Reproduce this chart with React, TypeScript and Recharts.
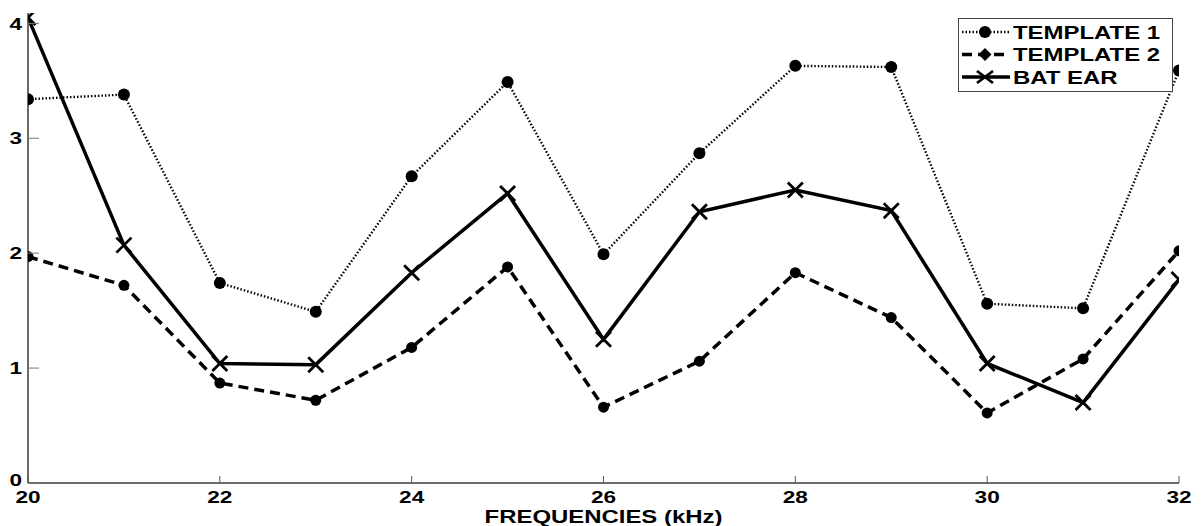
import React from "react"
import { LineChart, Line, XAxis, YAxis, Legend, Label } from "recharts"

const freqs = [20, 21, 22, 23, 24, 25, 26, 27, 28, 29, 30, 31, 32]
const template1 = [3.34, 3.38, 1.74, 1.49, 2.67, 3.49, 1.99, 2.87, 3.63, 3.62, 1.56, 1.52, 3.59]
const template2 = [1.97, 1.72, 0.87, 0.72, 1.18, 1.88, 0.66, 1.06, 1.83, 1.44, 0.61, 1.08, 2.02]
const batEar = [4.05, 2.07, 1.04, 1.03, 1.83, 2.52, 1.25, 2.36, 2.55, 2.37, 1.04, 0.7, 1.77]
const xTicks = [20, 22, 24, 26, 28, 30, 32]
const yTicks = [0, 1, 2, 3, 4]
const seriesNames = ["TEMPLATE 1", "TEMPLATE 2", "BAT EAR"]

const data = freqs.map((f, i) => ({ freq: f, t1: template1[i], t2: template2[i], bat: batEar[i] }))

const FONT = "'Liberation Sans', Arial, Helvetica, sans-serif"
const STRETCH = 1.33
const INK = "#000"

function BottomTick({ x, y, payload }: any) {
  return (
    <g transform={`translate(${x},${y})`}>
      <line x1={0} y1={0} x2={0} y2={-7} stroke="#555" strokeWidth={1} />
      <text x={0} y={20} transform={`scale(${STRETCH},1)`} textAnchor="middle" fontFamily={FONT} fontWeight="bold" fontSize={17} fill={INK}>
        {payload.value}
      </text>
    </g>
  )
}

function TopTick({ x, y }: any) {
  return <line x1={x} y1={y} x2={x} y2={y + 8} stroke="#777" strokeWidth={1} />
}

function LeftTick({ x, y, payload }: any) {
  const dy = payload.value === 0 ? 3 : payload.value === 4 ? 7 : 6
  return (
    <g transform={`translate(${x},${y})`}>
      <line x1={0} y1={0} x2={11} y2={0} stroke="#777" strokeWidth={1} />
      <g transform="translate(-6,0)">
        <text x={0} y={dy} transform={`scale(${STRETCH},1)`} textAnchor="end" fontFamily={FONT} fontWeight="bold" fontSize={17} fill={INK}>
          {payload.value}
        </text>
      </g>
    </g>
  )
}

function RightTick({ x, y }: any) {
  return <line x1={x} y1={y} x2={x - 11} y2={y} stroke="#777" strokeWidth={1} />
}

function AxisTitle({ viewBox }: any) {
  const cx = viewBox.x + viewBox.width / 2
  return (
    <g transform={`translate(${cx},${viewBox.y + 40})`}>
      <text x={0} y={0} transform={`scale(${STRETCH},1)`} textAnchor="middle" fontFamily={FONT} fontWeight="bold" fontSize={18} fill={INK}>
        FREQUENCIES (kHz)
      </text>
    </g>
  )
}

function CircleDot({ cx, cy, r }: any) {
  if (cx == null || cy == null) return null
  return <circle cx={cx} cy={cy} r={r} fill="#000" />
}

function CrossDot({ cx, cy }: any) {
  if (cx == null || cy == null) return null
  const s = 7.5
  return (
    <path d={`M${cx - s},${cy - s}L${cx + s},${cy + s}M${cx - s},${cy + s}L${cx + s},${cy - s}`} stroke="#000" strokeWidth={2.8} />
  )
}

function LegendBox() {
  const rows = [
    { dash: "1.5 2", w: 2.4, marker: "circle" },
    { dash: "10 6", w: 3.5, marker: "diamond" },
    { dash: undefined, w: 3.5, marker: "cross" },
  ]
  return (
    <svg width={215} height={74} style={{ display: "block" }}>
      <rect x={0.5} y={0.5} width={214} height={73} fill="#fff" stroke="#444" strokeWidth={1} />
      {rows.map((r, i) => {
        const cy = 14 + i * 22.5
        const mx = 27
        return (
          <g key={i}>
            <line x1={4} x2={52} y1={cy} y2={cy} stroke="#000" strokeWidth={r.w} strokeDasharray={r.dash} />
            {r.marker === "circle" && <circle cx={mx} cy={cy} r={6} fill="#000" />}
            {r.marker === "diamond" && <path d={`M${mx},${cy - 6.5}L${mx + 6.5},${cy}L${mx},${cy + 6.5}L${mx - 6.5},${cy}Z`} fill="#000" />}
            {r.marker === "cross" && (
              <path d={`M${mx - 8},${cy - 6}L${mx + 8},${cy + 6}M${mx - 8},${cy + 6}L${mx + 8},${cy - 6}`} stroke="#000" strokeWidth={2.8} />
            )}
            <g transform={`translate(55,${cy + 6.5})`}>
              <text x={0} y={0} transform={`scale(${STRETCH},1)`} fontFamily={FONT} fontWeight="bold" fontSize={18} fill={INK}>
                {seriesNames[i]}
              </text>
            </g>
          </g>
        )
      })}
    </svg>
  )
}

export default function App() {
  return (
    <div style={{ width: 1202, height: 526, background: "#fff" }}>
      <style>{"body{margin:0;background:#fff}"}</style>
      <LineChart width={1202} height={526} data={data} margin={{ top: 13, right: 23, bottom: 0, left: 0 }}>
        <XAxis
          dataKey="freq"
          type="number"
          domain={[20, 32]}
          ticks={xTicks}
          allowDataOverflow
          height={43}
          tickSize={0}
          tickMargin={0}
          tickLine={false}
          axisLine={{ stroke: "#3a3a3a", strokeWidth: 1.5 }}
          tick={BottomTick}
          interval={0}
        >
          <Label content={AxisTitle} />
        </XAxis>
        <XAxis
          xAxisId="top"
          orientation="top"
          dataKey="freq"
          type="number"
          domain={[20, 32]}
          ticks={xTicks}
          allowDataOverflow
          height={0}
          tickSize={0}
          tickMargin={0}
          tickLine={false}
          axisLine={{ stroke: "#9a9a9a", strokeWidth: 2 }}
          tick={TopTick}
          interval={0}
        />
        <YAxis
          type="number"
          domain={[0, 4.09]}
          ticks={yTicks}
          allowDataOverflow
          width={28}
          tickSize={0}
          tickMargin={0}
          tickLine={false}
          axisLine={{ stroke: "#3a3a3a", strokeWidth: 1.5 }}
          tick={LeftTick}
          interval={0}
        />
        <YAxis
          yAxisId="right"
          orientation="right"
          type="number"
          domain={[0, 4.09]}
          ticks={yTicks}
          allowDataOverflow
          width={0}
          tickSize={0}
          tickMargin={0}
          tickLine={false}
          axisLine={{ stroke: "#9a9a9a", strokeWidth: 2 }}
          tick={RightTick}
          interval={0}
        />
        <Line
          dataKey="t1"
          name={seriesNames[0]}
          stroke="#000"
          strokeWidth={2.4}
          strokeDasharray="1.5 2"
          dot={(p: any) => <CircleDot key={`t1-${p.index}`} {...p} r={6} />}
          isAnimationActive={false}
        />
        <Line
          dataKey="t2"
          name={seriesNames[1]}
          stroke="#000"
          strokeWidth={3.5}
          strokeDasharray="10 6"
          dot={(p: any) => <CircleDot key={`t2-${p.index}`} {...p} r={5.5} />}
          isAnimationActive={false}
        />
        <Line
          dataKey="bat"
          name={seriesNames[2]}
          stroke="#000"
          strokeWidth={3.5}
          dot={(p: any) => <CrossDot key={`bat-${p.index}`} {...p} />}
          isAnimationActive={false}
        />
        <Legend
          layout="horizontal"
          verticalAlign="middle"
          align="center"
          content={LegendBox}
          wrapperStyle={{ left: 958, top: 18, width: 215, height: 74 }}
        />
      </LineChart>
    </div>
  )
}
